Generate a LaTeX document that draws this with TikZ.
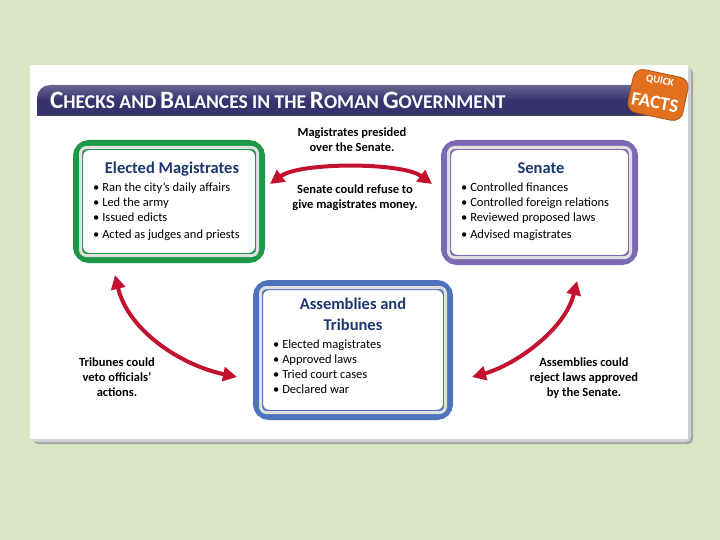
\documentclass[tikz,border=0pt]{standalone}
\usepackage{fontspec}
\setmainfont{Carlito}
\usetikzlibrary{arrows.meta,calc}
\definecolor{bg}{HTML}{D9E5C5}
\definecolor{titlebar}{HTML}{36326D}
\definecolor{emgreen}{HTML}{1B9946}
\definecolor{senpurple}{HTML}{7D68B3}
\definecolor{asblue}{HTML}{4E73BD}
\definecolor{headblue}{HTML}{1D3770}
\definecolor{arrowred}{HTML}{C3122F}
\definecolor{qforange}{HTML}{E2711F}
\newcommand{\tcap}[1]{{\fontsize{25}{25}\selectfont #1}}
\newcommand{\tsm}[1]{{\fontsize{19.5}{19.5}\selectfont #1}}
\begin{document}
\begin{tikzpicture}[x=1pt,y=-1pt,
  boxnode/.style={draw=#1, line width=10pt, rounded corners=11pt, fill=white, inner sep=0pt},
  head/.style={font=\fontsize{16.5}{18}\selectfont\bfseries, text=headblue, anchor=base, inner sep=0pt},
  item/.style={font=\fontsize{12.5}{15}\selectfont, anchor=base west, inner sep=0pt},
  lbl/.style={font=\fontsize{12.5}{15}\selectfont\bfseries, anchor=base, inner sep=0pt},
  redarrow/.style={draw=arrowred, line width=4pt, {Triangle[length=14pt,width=14pt]}-{Triangle[length=14pt,width=14pt]}}
]
\useasboundingbox (0,0) rectangle (720,540);
\fill[bg] (0,0) rectangle (720,540);
% panel with shadow
\fill[black!35, rounded corners=5pt] (33,68) rectangle (693,444);
\fill[black!18, rounded corners=5pt] (31,66) rectangle (691,442);
\fill[white] (30,65) rectangle (688,439);
% title bar
\shade[top color=titlebar!75!white, bottom color=titlebar, middle color=titlebar]
  (37,116) [rounded corners=13pt] -- (37,85) [sharp corners] -- (682,85) -- (682,116) -- cycle;
\draw[black!70, line width=1pt] (37,116) -- (682,116);
\node[anchor=base west, text=white, font=\fontsize{17}{17}\selectfont\bfseries, inner sep=0pt] (title) at (50,109)
  {\tcap{C}\tsm{HECKS AND} \tcap{B}\tsm{ALANCES IN THE} \tcap{R}\tsm{OMAN} \tcap{G}\tsm{OVERNMENT}};
% quick facts badge
\node[fill=qforange, draw=qforange!75!black, line width=0.8pt, rounded corners=10pt, rotate=-12,
  minimum width=56pt, minimum height=44pt] (qf) at (658,95) {};
\node[rotate=-10, text=white, font=\fontsize{10.5}{10.5}\selectfont\bfseries, inner sep=0pt] (qf1) at (660,81) {QUICK};
\node[rotate=-10, text=white, font=\fontsize{19}{19}\selectfont\bfseries, inner sep=0pt] (qf2) at (655,102.5) {FACTS};
% boxes
\node[boxnode=emgreen, minimum width=182pt, minimum height=113pt] (em) at (169,201.5) {};
\node[boxnode=senpurple, minimum width=187pt, minimum height=115pt] (sen) at (539.5,202.5) {};
\node[boxnode=asblue, minimum width=190pt, minimum height=130pt] (as) at (353,350) {};
\foreach \b in {em,sen,as}{
  \draw[black!12, line width=3pt, rounded corners=6pt] ($(\b.south west)+(7.5,-7.5)$) rectangle ($(\b.north east)+(-7.5,7.5)$);
}
% box texts
\node[head] (emh) at (172,174) {Elected Magistrates};
\node[item] (em1) at (93,192) {• Ran the city’s daily affairs};
\node[item] (em2) at (93,207) {• Led the army};
\node[item] (em3) at (93,222) {• Issued edicts};
\node[item] (em4) at (93,238) {• Acted as judges and priests};
\node[head] (senh) at (541,174) {Senate};
\node[item] (sen1) at (461,192) {• Controlled finances};
\node[item] (sen2) at (461,207) {• Controlled foreign relations};
\node[item] (sen3) at (461,222) {• Reviewed proposed laws};
\node[item] (sen4) at (461,238) {• Advised magistrates};
\node[head] (ash1) at (353,309) {Assemblies and};
\node[head] (ash2) at (353,330) {Tribunes};
\node[item] (as1) at (273,348) {• Elected magistrates};
\node[item] (as2) at (273,363) {• Approved laws};
\node[item] (as3) at (273,378) {• Tried court cases};
\node[item] (as4) at (273,393) {• Declared war};
% labels
\node[lbl] (l1a) at (352,137) {Magistrates presided};
\node[lbl] (l1b) at (352,152) {over the Senate.};
\node[lbl] (l2a) at (355,194) {Senate could refuse to};
\node[lbl] (l2b) at (355,209) {give magistrates money.};
\node[lbl] (l3a) at (117,366) {Tribunes could};
\node[lbl] (l3b) at (117,381) {veto officials’};
\node[lbl] (l3c) at (117,396) {actions.};
\node[lbl] (l4a) at (584,366) {Assemblies could};
\node[lbl] (l4b) at (584,381) {reject laws approved};
\node[lbl] (l4c) at (584,396) {by the Senate.};
% connector end points
\coordinate (t1) at ($(em.east)+(5,-17.5)$);
\coordinate (t2) at ($(sen.west)+(-9,-18.5)$);
\coordinate (lt) at ($(em.south)+(-54,12)$);
\coordinate (lb) at ($(as.west)+(-16,27)$);
\coordinate (rt) at ($(sen.south)+(37.5,16)$);
\coordinate (rb) at ($(as.east)+(19,27)$);
\draw[redarrow] (t1) .. controls (300,162) and (402,162) .. (t2);
\draw[redarrow] (lt) .. controls (128,330) and (180,365) .. (lb);
\draw[redarrow] (rt) .. controls (565,330) and (515,365) .. (rb);
\end{tikzpicture}
\end{document}
